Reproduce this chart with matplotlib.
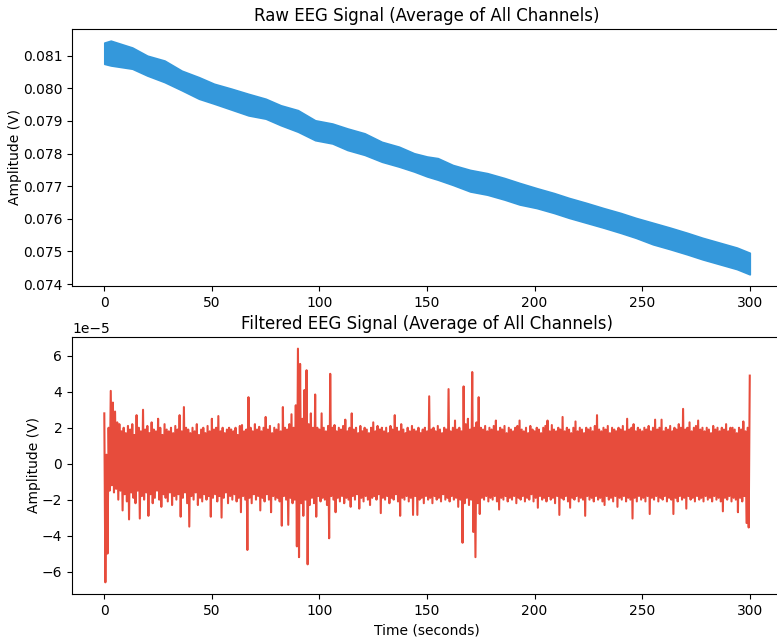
import numpy as np
import matplotlib
matplotlib.use("Agg")
import matplotlib.pyplot as plt

# ---- Raw signal envelope, volts ----
raw_t = [0, 3, 13, 20, 28, 36, 44, 51, 59, 67, 75, 82, 90, 98, 106, 113, 121, 129, 137, 144,
         150, 155, 162, 170, 178, 186, 193, 201, 209, 216, 224, 232, 240, 247, 255, 263, 271,
         278, 286, 294, 300]
raw_upper = [0.08140, 0.08146, 0.08125, 0.08100, 0.08085, 0.08054, 0.08034, 0.08014, 0.07999,
             0.07983, 0.07968, 0.07948, 0.07933, 0.07902, 0.07892, 0.07877, 0.07862, 0.07836,
             0.07821, 0.07801, 0.07791, 0.07786, 0.07765, 0.07750, 0.07740, 0.07725, 0.07710,
             0.07694, 0.07679, 0.07664, 0.07649, 0.07633, 0.07618, 0.07603, 0.07588, 0.07573,
             0.07557, 0.07542, 0.07527, 0.07512, 0.07496]
raw_lower = [0.08075, 0.08070, 0.08060, 0.08039, 0.08019, 0.07994, 0.07968, 0.07953, 0.07935,
             0.07917, 0.07907, 0.07887, 0.07867, 0.07841, 0.07831, 0.07811, 0.07796, 0.07775,
             0.07760, 0.07745, 0.07730, 0.07720, 0.07704, 0.07684, 0.07674, 0.07659, 0.07644,
             0.07633, 0.07618, 0.07603, 0.07588, 0.07573, 0.07557, 0.07542, 0.07522, 0.07507,
             0.07491, 0.07476, 0.07461, 0.07446, 0.07430]

# ---- Filtered signal: local peaks at t = 0,1,...,300 s (units of 1e-5 V) ----
filt_peaks = [
    2.8, 0.5, 2.0, 4.05, 3.4, 2.9, 2.3, 2.2, 1.8, 2.0,
    1.7, 2.1, 1.9, 2.2, 1.6, 2.7, 2.0, 1.8, 3.0, 1.9,
    2.1, 1.7, 2.3, 1.9, 1.8, 2.5, 2.0, 1.6, 2.2, 1.9,
    1.8, 2.0, 1.7, 2.1, 1.9, 2.7, 1.8, 3.15, 2.0, 1.9,
    1.7, 2.0, 1.8, 2.2, 1.6, 1.9, 2.0, 1.7, 2.1, 1.8,
    2.5, 1.9, 2.0, 2.65, 1.8, 2.0, 1.7, 1.9, 2.0, 1.9,
    1.8, 2.0, 1.6, 2.1, 2.15, 1.8, 1.9, 3.7, 2.0, 1.8,
    2.2, 1.9, 2.05, 1.8, 2.0, 2.6, 1.9, 2.1, 1.7, 2.0,
    1.9, 2.2, 1.8, 3.15, 2.0, 1.9, 2.2, 2.75, 2.0, 3.25,
    6.4, 5.55, 2.5, 4.1, 5.2, 2.2, 2.8, 2.0, 3.85, 2.0,
    1.9, 2.8, 2.0, 1.8, 2.1, 5.0, 2.0, 2.15, 1.8, 2.0,
    1.9, 2.1, 2.45, 1.8, 2.0, 2.8, 1.9, 2.0, 1.7, 2.1,
    1.8, 2.0, 1.9, 1.7, 2.0, 2.3, 1.8, 2.1, 1.9, 2.0,
    1.8, 2.0, 1.7, 2.1, 1.9, 2.7, 2.0, 1.8, 2.2, 1.9,
    1.7, 2.0, 1.8, 2.1, 1.9, 1.8, 2.0, 1.7, 1.9, 2.0,
    1.8, 3.75, 1.9, 2.0, 1.8, 2.1, 1.9, 1.7, 2.0, 1.9,
    4.15, 1.8, 2.0, 2.4, 1.9, 2.0, 1.8, 4.3, 2.2, 2.5,
    1.9, 5.1, 2.0, 2.3, 3.7, 2.0, 1.9, 2.1, 1.8, 2.0,
    1.9, 2.1, 2.4, 1.8, 2.0, 1.9, 2.1, 1.7, 2.0, 1.9,
    1.8, 2.0, 2.1, 2.4, 1.9, 1.8, 2.0, 1.7, 2.1, 1.9,
    1.8, 2.0, 1.9, 1.7, 2.0, 2.1, 2.4, 1.8, 2.15, 1.9,
    1.8, 2.0, 1.9, 2.6, 1.8, 2.0, 1.9, 1.7, 2.0, 2.35,
    1.8, 2.0, 1.9, 1.7, 2.0, 1.9, 2.0, 1.8, 2.1, 2.7,
    1.9, 1.8, 2.0, 1.9, 2.1, 1.7, 2.0, 1.9, 1.8, 2.0,
    1.9, 2.1, 1.8, 2.5, 1.9, 2.0, 2.2, 1.8, 2.0, 1.9,
    1.8, 2.0, 1.9, 2.1, 1.8, 2.0, 2.45, 1.9, 2.0, 2.45,
    1.8, 2.0, 1.9, 2.1, 1.8, 2.0, 1.9, 2.2, 2.0, 3.05,
    1.9, 2.0, 2.3, 1.8, 2.0, 2.1, 2.4, 1.9, 2.0, 1.8,
    2.0, 1.9, 1.7, 2.1, 1.9, 2.0, 1.8, 2.0, 1.9, 2.2,
    1.8, 2.0, 2.0, 1.9, 1.7, 2.0, 1.9, 2.35, 1.8, 2.0,
    4.9]

# ---- Filtered signal: local troughs at t = 0.5,1.5,...,299.5 s (units of 1e-5 V) ----
filt_troughs = [
    -6.6, -5.0, -1.5, -1.2, -1.6, -1.4, -2.0, -1.5, -2.6, -1.7,
    -2.1, -3.1, -1.6, -1.9, -2.2, -1.5, -3.05, -1.8, -2.0, -1.6,
    -2.9, -1.7, -2.2, -1.9, -1.5, -2.0, -2.4, -1.7, -1.9, -2.1,
    -1.6, -2.3, -1.8, -2.0, -1.7, -2.95, -1.9, -1.6, -2.2, -3.5,
    -1.8, -2.0, -1.6, -2.3, -1.9, -2.1, -1.7, -2.0, -1.8, -2.95,
    -1.9, -1.7, -2.1, -1.8, -3.0, -1.9, -1.6, -2.2, -1.8, -2.0,
    -1.7, -2.1, -1.9, -2.7, -1.8, -2.0, -4.8, -1.9, -2.2, -1.7,
    -2.0, -1.8, -2.6, -1.9, -2.1, -1.7, -2.0, -2.7, -1.8, -2.0,
    -1.9, -2.1, -3.45, -1.8, -2.0, -3.4, -1.9, -2.2, -2.0, -4.6,
    -5.2, -2.2, -2.9, -2.0, -5.6, -2.3, -1.9, -2.2, -2.95, -1.8,
    -2.1, -1.9, -2.0, -2.3, -4.15, -1.8, -2.0, -2.7, -1.9, -2.1,
    -1.8, -2.2, -1.9, -2.0, -2.4, -1.8, -2.0, -1.7, -2.5, -1.9,
    -2.1, -1.8, -2.0, -2.3, -1.9, -1.8, -2.0, -1.7, -2.75, -1.9,
    -2.0, -1.8, -2.2, -1.9, -2.0, -1.7, -2.1, -2.9, -1.9, -2.0,
    -1.8, -2.1, -1.9, -2.85, -1.8, -2.85, -2.0, -1.9, -2.2, -1.8,
    -2.0, -1.9, -2.2, -1.8, -2.0, -1.9, -2.1, -1.7, -2.0, -1.9,
    -2.1, -1.8, -2.0, -1.9, -2.4, -2.0, -4.4, -2.2, -1.9, -2.3,
    -2.0, -3.8, -5.2, -2.2, -2.8, -1.9, -2.0, -1.8, -2.1, -1.9,
    -2.0, -1.8, -2.1, -2.55, -1.9, -2.0, -1.8, -2.1, -1.9, -2.0,
    -1.8, -2.2, -1.9, -2.0, -1.8, -2.1, -1.9, -2.0, -1.7, -2.1,
    -1.9, -2.45, -1.8, -2.0, -1.9, -2.1, -1.8, -2.0, -1.9, -2.2,
    -1.8, -2.85, -1.9, -2.0, -1.8, -2.1, -2.45, -1.9, -2.0, -1.8,
    -2.1, -1.9, -2.0, -2.9, -1.8, -2.0, -1.9, -2.1, -1.8, -2.0,
    -1.9, -2.1, -2.3, -1.8, -2.0, -1.9, -2.1, -1.8, -2.4, -1.9,
    -2.0, -1.8, -2.1, -1.9, -2.0, -3.05, -1.9, -2.1, -1.8, -2.0,
    -1.9, -2.1, -1.8, -2.8, -1.9, -2.0, -1.8, -2.1, -1.9, -2.0,
    -1.8, -2.1, -1.9, -2.0, -2.8, -1.9, -2.1, -1.8, -2.0, -1.9,
    -2.5, -1.8, -2.0, -1.9, -2.1, -1.8, -2.0, -1.9, -2.1, -1.8,
    -2.0, -1.9, -2.1, -1.8, -2.0, -1.9, -2.1, -2.65, -1.9, -2.0,
    -1.8, -2.1, -1.9, -2.0, -2.7, -1.9, -2.1, -1.8, -3.3, -3.55]

title_raw = "Raw EEG Signal (Average of All Channels)"
title_filt = "Filtered EEG Signal (Average of All Channels)"
ylabel = "Amplitude (V)"
xlabel = "Time (seconds)"

# interleave peaks and troughs into one trace
peak_t = np.arange(len(filt_peaks), dtype=float)
trough_t = np.arange(len(filt_troughs), dtype=float) + 0.5
ft = np.empty(len(peak_t) + len(trough_t))
fv = np.empty_like(ft)
ft[0::2] = peak_t
fv[0::2] = np.array(filt_peaks) * 1e-5
ft[1::2] = trough_t
fv[1::2] = np.array(filt_troughs) * 1e-5

fig = plt.figure(figsize=(7.77, 6.37), dpi=100)
ax1 = fig.add_axes([0.0927, 0.5510, 0.9138, 0.4035])
ax2 = fig.add_axes([0.0927, 0.0675, 0.9138, 0.4035])

ax1.fill_between(raw_t, raw_lower, raw_upper, color="#3498db", linewidth=1.2, edgecolor="#3498db")
ax1.set_title(title_raw, fontsize=12)
ax1.set_ylabel(ylabel, labelpad=0.5)

ax2.plot(ft, fv, color="#e74c3c", linewidth=1.5)
ax2.set_title(title_filt, fontsize=12)
ax2.set_ylabel(ylabel, labelpad=0.5)
ax2.set_xlabel(xlabel)

fig.savefig("out.png", dpi=100)
